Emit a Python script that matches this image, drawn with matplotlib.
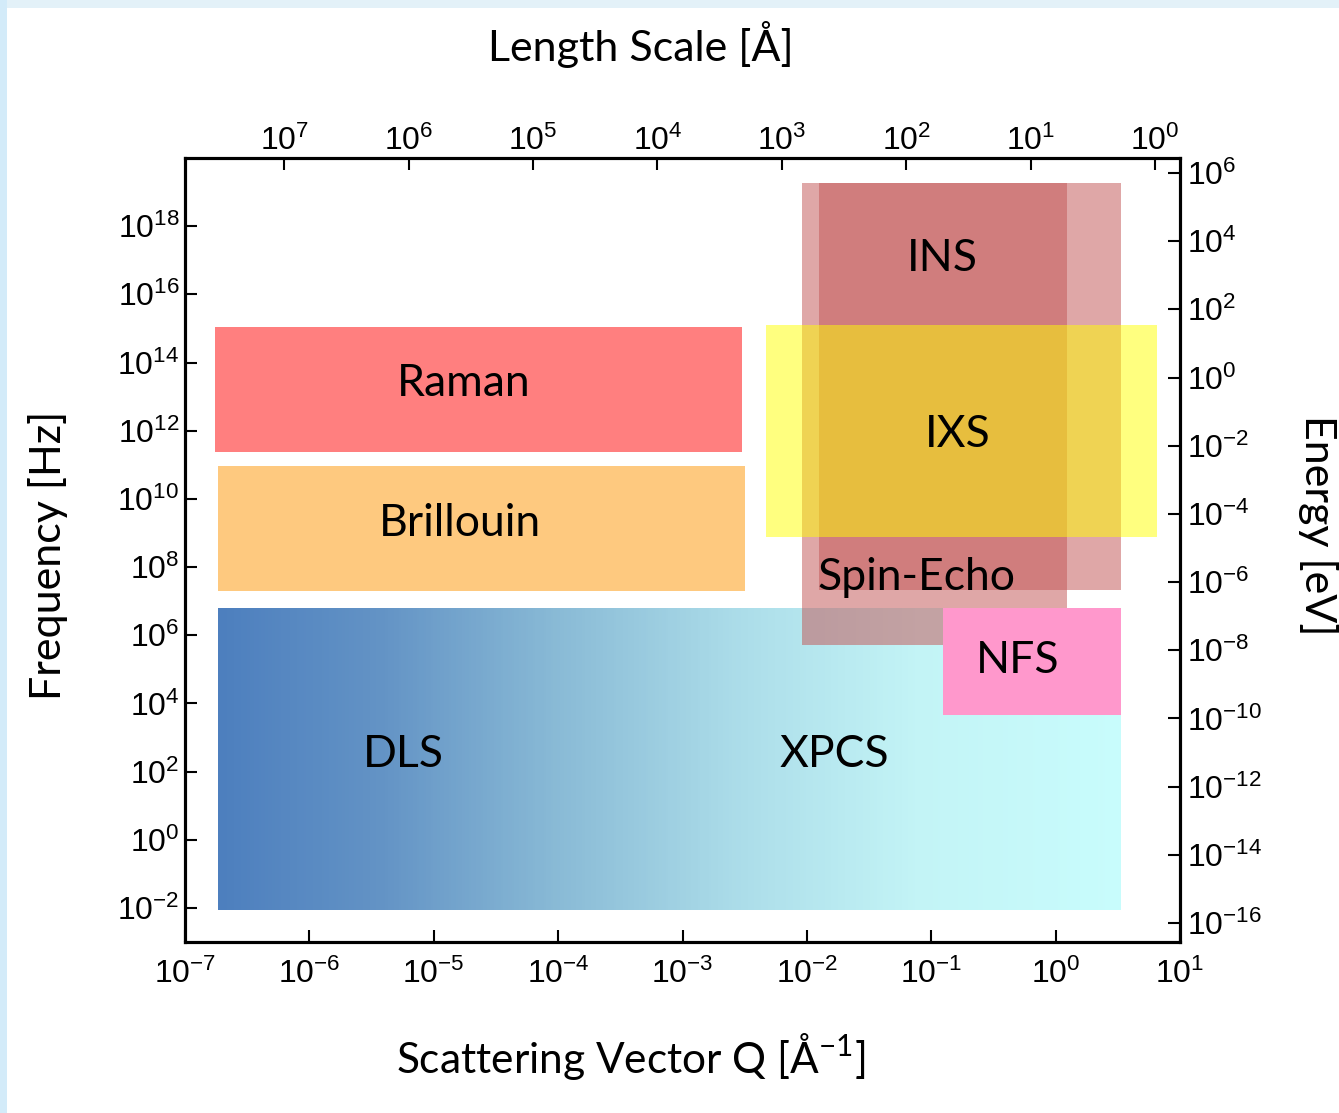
import numpy as np
import matplotlib
matplotlib.use("Agg")
import matplotlib.pyplot as plt
from matplotlib.patches import Rectangle
from matplotlib.colors import LinearSegmentedColormap
from matplotlib.ticker import FixedLocator, LogFormatterMathtext, NullLocator

# --- technique coverage in (Q, frequency) space -------------------------
techniques = ["Raman", "Brillouin", "DLS/XPCS", "Spin-Echo", "INS", "NFS", "IXS"]
q_min = [1.74e-7, 1.84e-7, 1.84e-7, 9.2e-3, 1.26e-2, 1.25e-1, 4.73e-3]   # 1/Å
q_max = [3.03e-3, 3.2e-3, 3.36, 1.24, 3.36, 3.36, 6.53]                  # 1/Å
f_min = [2.4e11, 2.0e7, 8.9e-3, 5.25e5, 2.14e7, 4.7e3, 7.8e8]            # Hz
f_max = [1.1e15, 9.3e10, 6.3e6, 1.86e19, 1.86e19, 6.3e6, 1.26e15]        # Hz

# region labels and where they sit (Q, frequency)
label_text = ["Raman", "Brillouin", "DLS", "XPCS", "Spin-Echo", "INS", "NFS", "IXS"]
label_q = [1.74e-5, 1.62e-5, 5.74e-6, 1.66e-2, 7.59e-2, 1.225e-1, 0.50, 0.162]
label_f = [2.5e13, 1.86e9, 3.1e2, 3.1e2, 5.1e7, 1.1e17, 1.78e5, 7.6e11]

# axis ranges and tick values
q_range = (1e-7, 1e1)
f_range = (1e-3, 1e20)
q_ticks = [10.0 ** k for k in range(-7, 2)]
f_ticks = [10.0 ** k for k in range(-2, 19, 2)]
length_ticks = [10.0 ** k for k in range(0, 8)]
energy_ticks = [10.0 ** k for k in range(-16, 7, 2)]

ENERGY_PER_HZ = 10 ** -13.56   # eV per Hz on the right-hand scale

# --- styling -----------------------------------------------------------
fills = {
    "Raman": dict(color="#ff7f7f", alpha=1.0),
    "Brillouin": dict(color="#fec97f", alpha=1.0),
    "Spin-Echo": dict(color="#c35959", alpha=0.53),
    "INS": dict(color="#c35959", alpha=0.53),
    "NFS": dict(color="#ff98cc", alpha=1.0),
    "IXS": dict(color="#ffff00", alpha=0.5),
}
grad_cmap = LinearSegmentedColormap.from_list(
    "dls_xpcs",
    [(0.0, "#4d7fbe"), (0.18, "#6393c5"), (0.38, "#8abbd6"),
     (0.58, "#acdde9"), (0.78, "#c3f4f6"), (1.0, "#c8fcfc")])

label_font = "Lato"
plt.rcParams["font.family"] = ["Liberation Sans", "DejaVu Sans"]
plt.rcParams["mathtext.fontset"] = "custom"
plt.rcParams["mathtext.rm"] = "Liberation Sans"

fig = plt.figure(figsize=(13.39, 11.13), dpi=100)
fig.patch.set_facecolor("white")
# pale slide border along top and left edges
fig.patches.append(Rectangle((0, 1 - 8 / 1113), 1, 8 / 1113, transform=fig.transFigure,
                             facecolor="#e3f1f8", edgecolor="none", zorder=-1))
fig.patches.append(Rectangle((0, 0), 7 / 1339, 1, transform=fig.transFigure,
                             facecolor="#d3ebf9", edgecolor="none", zorder=-1))

ax = fig.add_axes([185 / 1339, 1 - 942 / 1113, 995 / 1339, 784 / 1113])
ax.set_xscale("log")
ax.set_yscale("log")
ax.set_xlim(*q_range)
ax.set_ylim(*f_range)

# gradient band for DLS / XPCS
i = techniques.index("DLS/XPCS")
xe = np.logspace(np.log10(q_min[i]), np.log10(q_max[i]), 400)
ye = np.array([f_min[i], f_max[i]])
shade = np.linspace(0, 1, len(xe) - 1)[None, :]
ax.pcolormesh(xe, ye, shade, cmap=grad_cmap, shading="flat", zorder=1,
              rasterized=True)

draw_order = ["Raman", "Brillouin", "Spin-Echo", "INS", "NFS", "IXS"]
for z, name in enumerate(draw_order):
    k = techniques.index(name)
    ax.add_patch(Rectangle((q_min[k], f_min[k]), q_max[k] - q_min[k], f_max[k] - f_min[k],
                           linewidth=0, zorder=2 + z, **fills[name]))

for t, q, f in zip(label_text, label_q, label_f):
    ax.text(q, f, t, fontsize=32, family=label_font, ha="center", va="center",
            zorder=20)

tick_kw = dict(direction="in", length=8.6, width=1.5, labelsize=23, color="black")

ax.xaxis.set_major_locator(FixedLocator(q_ticks))
ax.xaxis.set_major_formatter(LogFormatterMathtext())
ax.xaxis.set_minor_locator(NullLocator())
ax.yaxis.set_major_locator(FixedLocator(f_ticks))
ax.yaxis.set_major_formatter(LogFormatterMathtext())
ax.yaxis.set_minor_locator(NullLocator())
ax.tick_params(axis="x", pad=12, **tick_kw)
ax.tick_params(axis="y", pad=4, **tick_kw)

# top axis: length scale 2π/Q
ax_top = ax.twiny()
ax_top.set_xscale("log")
ax_top.set_xlim(2 * np.pi / q_range[0], 2 * np.pi / q_range[1])
ax_top.xaxis.set_major_locator(FixedLocator(length_ticks))
ax_top.xaxis.set_major_formatter(LogFormatterMathtext())
ax_top.xaxis.set_minor_locator(NullLocator())
ax_top.tick_params(axis="x", pad=1, **tick_kw)

# right axis: energy
ax_r = ax.twinx()
ax_r.set_yscale("log")
ax_r.set_ylim(f_range[0] * ENERGY_PER_HZ, f_range[1] * ENERGY_PER_HZ)
ax_r.yaxis.set_major_locator(FixedLocator(energy_ticks))
ax_r.yaxis.set_major_formatter(LogFormatterMathtext())
ax_r.yaxis.set_minor_locator(NullLocator())
ax_r.tick_params(axis="y", pad=5, **tick_kw)

for a in (ax, ax_top, ax_r):
    for s in a.spines.values():
        s.set_linewidth(2.2)

fig.text(641 / 1339, 1 - 45 / 1113, "Length Scale [Å]", fontsize=31, family=label_font,
         ha="center", va="center")
fig.text(631 / 1339, 1 - 1057 / 1113, r"Scattering Vector Q [Å$^{\mathdefault{-1}}$]",
         fontsize=30.5, family=label_font, ha="center", va="center")
fig.text(48 / 1339, 1 - 555 / 1113, "Frequency [Hz]", fontsize=31, family=label_font,
         rotation=90, ha="center", va="center")
fig.text(1338 / 1339, 1 - 525 / 1113, "Energy [eV]", fontsize=31, family=label_font,
         rotation=270, ha="right", va="center")

fig.savefig("out.png", dpi=100, facecolor=fig.get_facecolor())
